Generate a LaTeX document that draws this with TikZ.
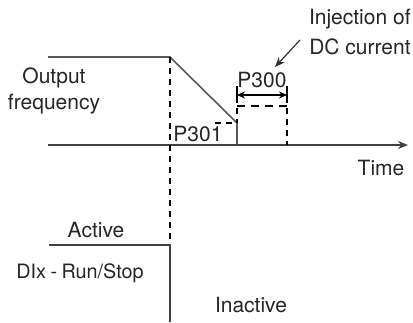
\documentclass[tikz,border=0pt]{standalone}
\usepackage{fontspec}
\setmainfont{TeX Gyre Heros}
\usepackage{tikz}
\usetikzlibrary{positioning}
\usetikzlibrary{arrows.meta}

\tikzset{
  curve/.style={line width=0.8pt, black!65},
  guide/.style={line width=0.7pt, black, dash pattern=on 3pt off 2.5pt},
  lbl/.style={font=\fontsize{10.5}{13}\selectfont, text=black!85, inner sep=0pt}
}

\begin{document}
\begin{tikzpicture}[x=0.5pt, y=-0.5pt]
      \useasboundingbox (0,0) rectangle (413,322);

      % points of the frequency curve
      \coordinate (f0) at (48,57);
      \coordinate (f1) at (170,57);
      \coordinate (r) at (237,123);
      \coordinate (a0) at (48,145);
      \coordinate (a1) at (408,145);
      \coordinate (rz) at (237,145);
      \coordinate (s0) at (49,245);
      \coordinate (s1) at (170,245);
      \coordinate (s2) at (170,322);

      \draw[curve] (f0) -- (f1) -- (r) -- (rz);
      \draw[curve, -{Stealth[length=5pt, width=4pt]}, black!75] (a0) -- (a1);
      \draw[guide] (f1) -- (s1);
      \draw[curve, black!75] (s0) -- (s1) -- (s2);

      % P301 and P300
      \coordinate (p1) at (215,123);
      \coordinate (t0) at (237,86);
      \coordinate (t1) at (287,86);
      \coordinate (t1z) at (287,145);
      \draw[guide] (p1) -- (r);
      \draw[guide] (t0) -- (r);
      \draw[guide] (t1) -- (t1z);
      \draw[line width=0.7pt] (t0) -- ++(0,14) (t1) -- ++(0,14);
      \draw[{Stealth[length=4pt, width=3.5pt]}-{Stealth[length=4pt, width=3.5pt]}, line width=0.7pt] (237,95) -- (287,95);
      \draw[line width=1pt, dash pattern=on 4pt off 3pt] (237,106) -- (287,106);

      \node[lbl, anchor=base west] (P301) at (173,141) {P301};
      \node[lbl, anchor=base] (P300) at (262,87) {P300};
      \node[lbl, align=right, anchor=north east] (inj) at (411,9) {Injection of\\[2pt]DC current};
      \coordinate (injtail) at (300,40);
      \coordinate (injtip) at (275,67);
      \draw[-{Stealth[length=5pt, width=4pt]}, line width=0.6pt, black!80] (injtail) -- (injtip);

      \node[lbl, align=center] (freq) at (54,91) {Output\\frequency};
      \node[lbl] (time) at (381,168) {Time};
      \node[lbl] (act) at (96,230) {Active};
      \node[lbl, font=\fontsize{9.9}{12}\selectfont] (dix) at (80,273) {DIx\hspace{2.2pt}-\hspace{2.2pt}Run/Stop};
      \node[lbl] (inact) at (251,305) {Inactive};

  \end{tikzpicture}
\end{document}
